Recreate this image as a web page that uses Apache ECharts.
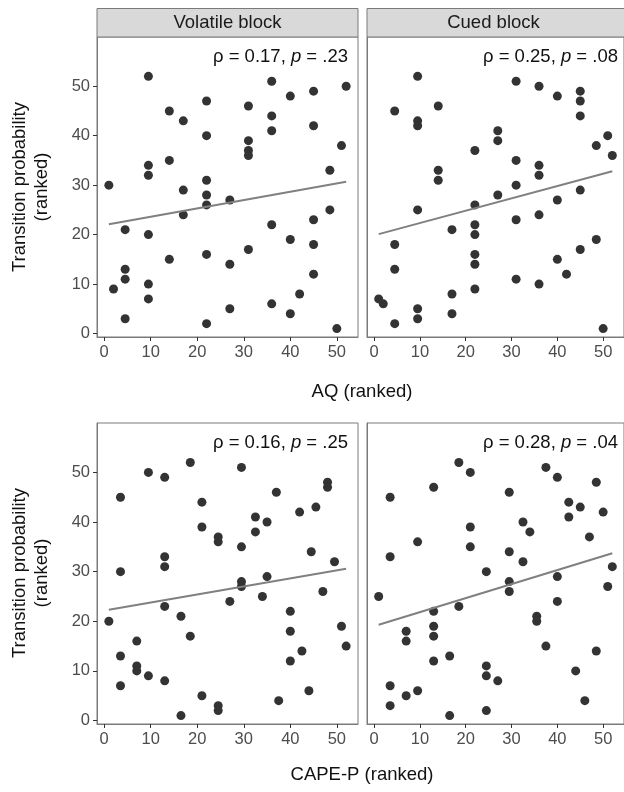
<!DOCTYPE html>
<html>
<head>
<meta charset="utf-8">
<script src="https://cdn.jsdelivr.net/npm/echarts@6/dist/echarts.min.js"></script>
<style>
  html, body { margin: 0; padding: 0; background: #fff; }
  #chart { width: 624px; height: 792px; }
</style>
</head>
<body>
<div id="chart"></div>
<script>
// ranks: [x, y]
var aqVolatile = [
  [9.5, 52], [14, 45], [17, 43], [22, 47], [22, 40], [31, 46], [36, 51], [36, 44], [36, 41],
  [40, 48], [45, 49], [45, 42], [52, 50], [51, 38], [48.5, 33], [31, 39], [31, 37], [31, 36],
  [9.5, 34], [9.5, 32], [14, 35], [1, 30], [22, 31], [17, 29], [22, 28], [27, 27],
  [22, 26], [17, 24], [48.5, 25], [45, 23], [4.5, 21], [9.5, 20], [36, 22], [40, 19], [45, 18],
  [31, 17], [14, 15], [22, 16], [27, 14], [4.5, 13], [4.5, 11], [2, 9], [9.5, 10], [9.5, 7],
  [45, 12], [42, 8], [36, 6], [27, 5], [40, 4], [4.5, 3], [22, 2], [50, 1]
];
var aqCued = [
  [9.5, 52], [4.5, 45], [9.5, 43], [9.5, 42], [14, 46], [31, 51], [36, 50], [40, 48], [45, 49],
  [45, 47], [45, 44], [27, 41], [27, 39], [22, 37], [31, 35], [36, 34], [36, 32], [14, 33],
  [14, 31], [48.5, 38], [51, 40], [52, 36], [45, 29], [31, 30], [27, 28], [40, 27],
  [22, 26], [9.5, 25], [36, 24], [31, 23], [17, 21], [22, 22], [22, 20], [4.5, 18], [48.5, 19],
  [45, 17], [22, 16], [22, 14], [40, 15], [4.5, 13], [42, 12], [31, 11], [36, 10], [22, 9],
  [17, 8], [1, 7], [2, 6], [9.5, 5], [17, 4], [9.5, 3], [4.5, 2], [50, 1]
];
var capeVolatile = [
  [3.5, 45], [9.5, 50], [13, 49], [18.5, 52], [29.5, 51], [21, 44], [21, 39], [24.5, 37],
  [24.5, 36], [29.5, 35], [32.5, 41], [32.5, 38], [35, 40], [37, 46], [42, 42], [45.5, 43],
  [48, 48], [48, 47], [44.5, 34], [49.5, 32], [13, 33], [13, 31],
  [3.5, 30], [29.5, 28], [29.5, 27], [35, 29], [1, 20], [13, 23], [27, 24], [34, 25], [40, 22],
  [47, 26], [16.5, 21], [18.5, 17], [7, 16], [3.5, 13], [7, 11], [7, 10], [9.5, 9], [13, 8],
  [3.5, 7], [40, 18], [40, 12], [42.5, 14], [51, 19], [52, 15], [44, 6], [37.5, 4], [21, 5],
  [24.5, 3], [24.5, 2], [16.5, 1]
];
var capeCued = [
  [3.5, 45], [13, 47], [18.5, 52], [21, 50], [29.5, 46], [37.5, 51], [40, 49], [48.5, 48],
  [42.5, 44], [45, 43], [42.5, 41], [50, 42], [21, 39], [32.5, 40], [34, 38], [47, 37],
  [9.5, 36], [21, 35], [3.5, 33], [29.5, 34], [32.5, 32], [52, 31], [24.5, 30],
  [40, 29], [29.5, 28], [29.5, 26], [51, 27], [1, 25], [40, 24], [18.5, 23], [13, 22],
  [35.5, 21], [35.5, 20], [13, 19], [7, 18], [13, 17], [7, 16], [37.5, 15], [48.5, 14],
  [16.5, 13], [13, 12], [24.5, 11], [44, 10], [24.5, 9], [27, 8], [3.5, 7], [46, 4],
  [9.5, 6], [7, 5], [3.5, 3], [24.5, 2], [16.5, 1]
];

// fitted line ends
var fitVolatileAQ = [[1, 22.1], [52, 30.7]];
var fitCuedAQ = [[1, 20.1], [52, 32.8]];
var fitVolatileCape = [[1, 22.3], [52, 30.6]];
var fitCuedCape = [[1, 19.3], [52, 33.7]];

var panelPoints = [aqVolatile, aqCued, capeVolatile, capeCued];
var panelFits = [fitVolatileAQ, fitCuedAQ, fitVolatileCape, fitCuedCape];
var rhoLabels = ['0.17', '0.25', '0.16', '0.28'];
var pLabels = ['.23', '.08', '.25', '.04'];
var stripLabels = ['Volatile block', 'Cued block'];
var xTitles = ['AQ (ranked)', 'CAPE-P (ranked)'];
var yTitle = 'Transition probability\n(ranked)';
var xTicks = [0, 10, 20, 30, 40, 50];
var yTicks = [0, 10, 20, 30, 40, 50];

var FONT = "'Liberation Sans', Arial, sans-serif";
var BORDER = '#7a7a7a';

var grids = [
  { left: 97, top: 37, width: 261, height: 300 },
  { left: 367, top: 37, width: 261, height: 300 },
  { left: 97, top: 423, width: 261, height: 301 },
  { left: 367, top: 423, width: 261, height: 301 }
];

var xAxes = [], yAxes = [], series = [], graphics = [];

grids.forEach(function (g, i) {
  var leftCol = i % 2 === 0;
  g.show = true;
  g.borderColor = BORDER;
  g.borderWidth = 1;
  g.backgroundColor = '#fff';
  g.containLabel = false;

  xAxes.push({
    gridIndex: i, type: 'value', min: -1.55, max: 54.55,
    axisLine: { show: true, onZero: false, lineStyle: { color: BORDER } },
    axisTick: { show: true, length: 4, customValues: xTicks, lineStyle: { color: '#333' } },
    axisLabel: { customValues: xTicks, color: '#4d4d4d', fontSize: 16.5, fontFamily: FONT, margin: 7 },
    splitLine: { show: false }
  });
  yAxes.push({
    gridIndex: i, type: 'value', min: -0.7, max: 59.95,
    axisLine: { show: true, onZero: false, lineStyle: { color: BORDER } },
    axisTick: { show: leftCol, length: 4, customValues: yTicks, lineStyle: { color: '#333' } },
    axisLabel: { show: leftCol, customValues: yTicks, color: '#4d4d4d', fontSize: 16.5, fontFamily: FONT, margin: 7 },
    splitLine: { show: false }
  });

  series.push({
    type: 'scatter', xAxisIndex: i, yAxisIndex: i,
    data: panelPoints[i], symbolSize: 9,
    itemStyle: { color: '#333333', opacity: 1 },
    silent: true
  });
  series.push({
    type: 'line', xAxisIndex: i, yAxisIndex: i,
    data: panelFits[i], showSymbol: false,
    lineStyle: { color: '#808080', width: 2 },
    silent: true, z: 3
  });

  graphics.push({
    type: 'text', x: g.left + 251, y: g.top + 20,
    style: {
      text: '{n|ρ = ' + rhoLabels[i] + ', }{i|p}{n| = ' + pLabels[i] + '}',
      align: 'right', verticalAlign: 'middle',
      rich: {
        n: { fontSize: 18.5, fontFamily: FONT, fill: '#111' },
        i: { fontSize: 18.5, fontFamily: FONT, fontStyle: 'italic', fill: '#111' }
      }
    },
    z: 10
  });
});

// facet strips on the top row
stripLabels.forEach(function (lab, i) {
  var g = grids[i];
  graphics.push({
    type: 'rect', shape: { x: g.left, y: 8.5, width: g.width, height: 28.5 },
    style: { fill: '#d9d9d9', stroke: BORDER, lineWidth: 1 }, z: 5
  });
  graphics.push({
    type: 'text', x: g.left + g.width / 2 - (i === 1 ? 4 : 0), y: 23,
    style: { text: lab, align: 'center', verticalAlign: 'middle', fontSize: 18.5, fontFamily: FONT, fill: '#1a1a1a' },
    z: 6
  });
});

// axis titles
[392, 775].forEach(function (y, r) {
  graphics.push({
    type: 'text', x: 362, y: y,
    style: { text: xTitles[r], align: 'center', verticalAlign: 'middle', fontSize: 18.5, fontFamily: FONT, fill: '#111' }
  });
});
[187, 573].forEach(function (y) {
  graphics.push({
    type: 'text', x: 31, y: y, rotation: Math.PI / 2,
    style: { text: yTitle, align: 'center', verticalAlign: 'middle', fontSize: 18.5, lineHeight: 22, fontFamily: FONT, fill: '#111' }
  });
});

var chart = echarts.init(document.getElementById('chart'), null, { renderer: 'canvas' });
chart.setOption({
  animation: false,
  backgroundColor: '#fff',
  grid: grids,
  xAxis: xAxes,
  yAxis: yAxes,
  series: series,
  graphic: graphics
});
</script>
</body>
</html>
